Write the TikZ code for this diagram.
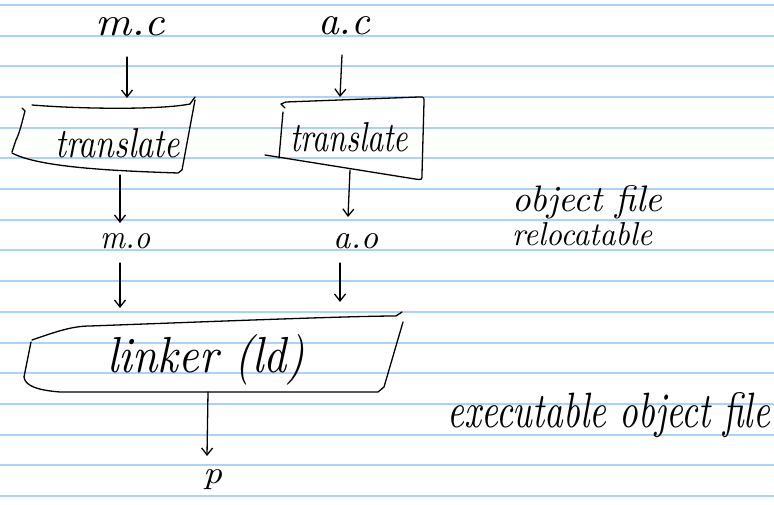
\documentclass[tikz,border=0pt]{standalone}
\usepackage{graphicx}
\usetikzlibrary{arrows.meta}
\definecolor{ruleblue}{RGB}{170,210,250}
\newcommand{\hw}[3]{\resizebox{#1}{#2}{\itshape #3}}
\tikzset{
  paperrule/.style={draw=ruleblue,line width=2pt},
  hand/.style={draw=black,line width=1.3pt,line cap=round,line join=round},
  arr/.style={hand,-{Straight Barb[length=7pt,width=11pt,line width=1.3pt]}},
  lbl/.style={inner sep=0pt,text=black,anchor=base west}
}
\begin{document}
\begin{tikzpicture}[x=1pt,y=-1pt]
\useasboundingbox (0,0) rectangle (774,505);
\fill[white] (0,0) rectangle (774,505);
% lined paper
\foreach \yy in {5,36,66,97,128,158,189,220,250,281,312,343,373,404,435,465,496}{
  \draw[paperrule] (0,\yy) -- (774,\yy);
}
% labels
\node[lbl] (mc) at (95,36) {\hw{70pt}{18pt}{m.c}};
\node[lbl] (ac) at (318,35) {\hw{52pt}{18pt}{a.c}};
\node[lbl] (t1) at (55,158) {\hw{125pt}{29pt}{translate}};
\node[lbl] (t2) at (290,152) {\hw{118pt}{29pt}{translate}};
\node[lbl] (mo) at (100,248) {\hw{50pt}{15pt}{m.o}};
\node[lbl] (ao) at (333,248) {\hw{45pt}{15pt}{a.o}};
\node[lbl] (ld) at (107,372) {\hw{198pt}{38pt}{linker (ld)}};
\node[lbl] (p) at (203,483) {\hw{19pt}{14pt}{p}};
\node[lbl] (objf) at (512,212) {\hw{150pt}{26pt}{object file}};
\node[lbl] (reloc) at (512,246) {\hw{140pt}{23pt}{relocatable}};
\node[lbl] (exe) at (447,427) {\hw{323pt}{35pt}{executable object file}};
% translate box 1
\draw[hand] (32,105) .. controls (80,109) and (160,110) .. (190,104) -- (195,97);
\draw[hand] (195,100) -- (182,170) -- (178,173) .. controls (120,171) and (40,168) .. (12,153);
\draw[hand] (22,108) -- (25,111) .. controls (22,122) and (20,132) .. (16,140) -- (12,152);
% translate box 2
\draw[hand] (285,108) -- (281,104) -- (286,102) -- (419,97) .. controls (424,97) .. (424,102) -- (422,174) .. controls (422,180) .. (415,179) -- (265,155);
\draw[hand] (283,112) -- (279,158);
% linker box
\draw[hand] (32,340) .. controls (55,332) and (72,326) .. (90,326) .. controls (200,322) and (350,316) .. (396,316) -- (402,312);
\draw[hand] (403,322) -- (384,387) -- (378,392) -- (60,392) .. controls (35,390) and (25,385) .. (24,377) -- (31,342);
% connector coordinates
\coordinate (mcA) at (127,57);  \coordinate (mcB) at (127,98);
\coordinate (acA) at (342,55);  \coordinate (acB) at (340,97);
\coordinate (t1A) at (120,175); \coordinate (t1B) at (120,223);
\coordinate (t2A) at (350,170); \coordinate (t2B) at (348,217);
\coordinate (moA) at (120,263); \coordinate (moB) at (120,308);
\coordinate (aoA) at (340,263); \coordinate (aoB) at (340,302);
\coordinate (ldA) at (208,392); \coordinate (ldB) at (207,456);
\draw[arr] (mcA) -- (mcB);
\draw[arr] (acA) -- (acB);
\draw[arr] (t1A) -- (t1B);
\draw[arr] (t2A) -- (t2B);
\draw[arr] (moA) -- (moB);
\draw[arr] (aoA) -- (aoB);
\draw[arr] (ldA) -- (ldB);
\end{tikzpicture}
\end{document}
